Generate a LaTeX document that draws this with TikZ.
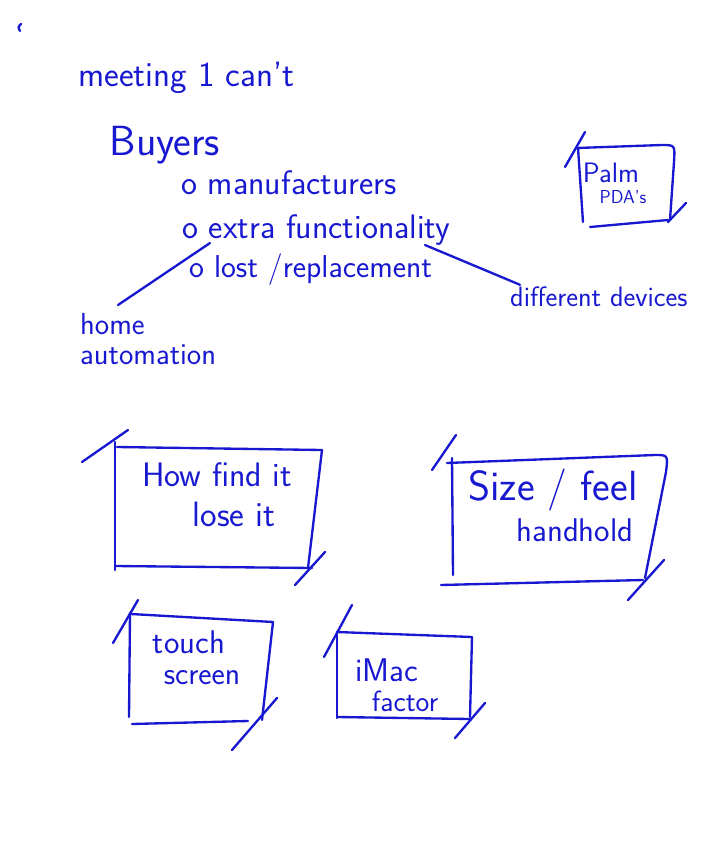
\documentclass[tikz,border=0pt]{standalone}
\usetikzlibrary{calc}
\definecolor{ink}{RGB}{24,24,208}

\begin{document}
\begin{tikzpicture}[x=0.03cm,y=-0.03cm,
    pen/.style={ink,line width=2pt,line cap=round,line join=round},
    hand/.style={ink,font=\sffamily\fontsize{29}{30}\selectfont,inner sep=0pt},
    hand size/.style={font=\sffamily\fontsize{#1}{#1}\selectfont}]
  \useasboundingbox (0,0) rectangle (720,864);

  \draw[pen] (21,24) .. controls (18,27) .. (20,31);

  % notes at the top
  \node[hand,hand size=30,anchor=west] (meeting) at (78,78) {meeting 1 can't};
  \node[hand,hand size=36] (buyers) at (165,145) {Buyers};
  \node[hand,anchor=west] (manufacturers) at (181,183) {o manufacturers};
  \node[hand,anchor=west] (extra) at (182,230) {o extra functionality};
  \node[hand,hand size=27,anchor=west] (lost) at (189,270) {o lost /replacement};

  \node[hand,hand size=26,anchor=north west,align=left] (home) at (80,313) {home\\automation};
  \node[hand,hand size=24,anchor=west] (devices) at (510,297) {different devices};

  \coordinate (extra left) at (210,243);
  \coordinate (extra right) at (425,245);
  \draw[pen] (extra left) -- ($(home.north west)+(38,-8)$);
  \draw[pen] (extra right) -- ($(devices.north west)+(10,-2)$);

  % Palm box
  \draw[pen] (578,148) -- (583,222);
  \draw[pen] (577,148) -- (662,145) .. controls (675,145) .. (674,162) -- (670,220);
  \draw[pen] (590,227) -- (668,220);
  \draw[pen] (565,167) -- (585,132);
  \draw[pen] (668,222) -- (686,203);
  \node[hand,hand size=24] (palm) at (611,173) {Palm};
  \node[hand,hand size=16] (pda) at (623,197) {PDA's};

  % find box
  \draw[pen] (115,442) -- (115,570);
  \draw[pen] (117,447) -- (322,450) -- (308,568);
  \draw[pen] (115,566) -- (312,568);
  \draw[pen] (82,462) -- (128,430);
  \draw[pen] (295,585) -- (325,552);
  \node[hand,hand size=29] (find) at (217,475) {How find it};
  \node[hand,hand size=30] (lose) at (234,514) {lose it};

  % size box
  \draw[pen] (452,458) -- (453,575);
  \draw[pen] (447,463) -- (655,455) .. controls (668,455) .. (666,472) -- (645,578);
  \draw[pen] (441,585) -- (643,580);
  \draw[pen] (432,470) -- (456,435);
  \draw[pen] (628,600) -- (664,560);
  \node[hand,hand size=36] (size) at (553,490) {Size / feel};
  \node[hand,hand size=28] (handhold) at (575,530) {handhold};

  % touch box
  \draw[pen] (130,613) -- (129,717);
  \draw[pen] (131,614) -- (273,622) -- (262,720);
  \draw[pen] (132,724) -- (248,721);
  \draw[pen] (113,643) -- (138,600);
  \draw[pen] (232,750) -- (277,698);
  \node[hand,hand size=28] (touch) at (189,642) {touch};
  \node[hand,hand size=27] (screen) at (202,678) {screen};

  % iMac box
  \draw[pen] (337,632) -- (337,718);
  \draw[pen] (337,632) -- (472,637) -- (470,717);
  \draw[pen] (337,717) -- (470,719);
  \draw[pen] (324,657) -- (352,605);
  \draw[pen] (455,738) -- (485,703);
  \node[hand,hand size=28] (imac) at (387,670) {iMac};
  \node[hand,hand size=25] (factor) at (405,701) {factor};
\end{tikzpicture}
\end{document}
